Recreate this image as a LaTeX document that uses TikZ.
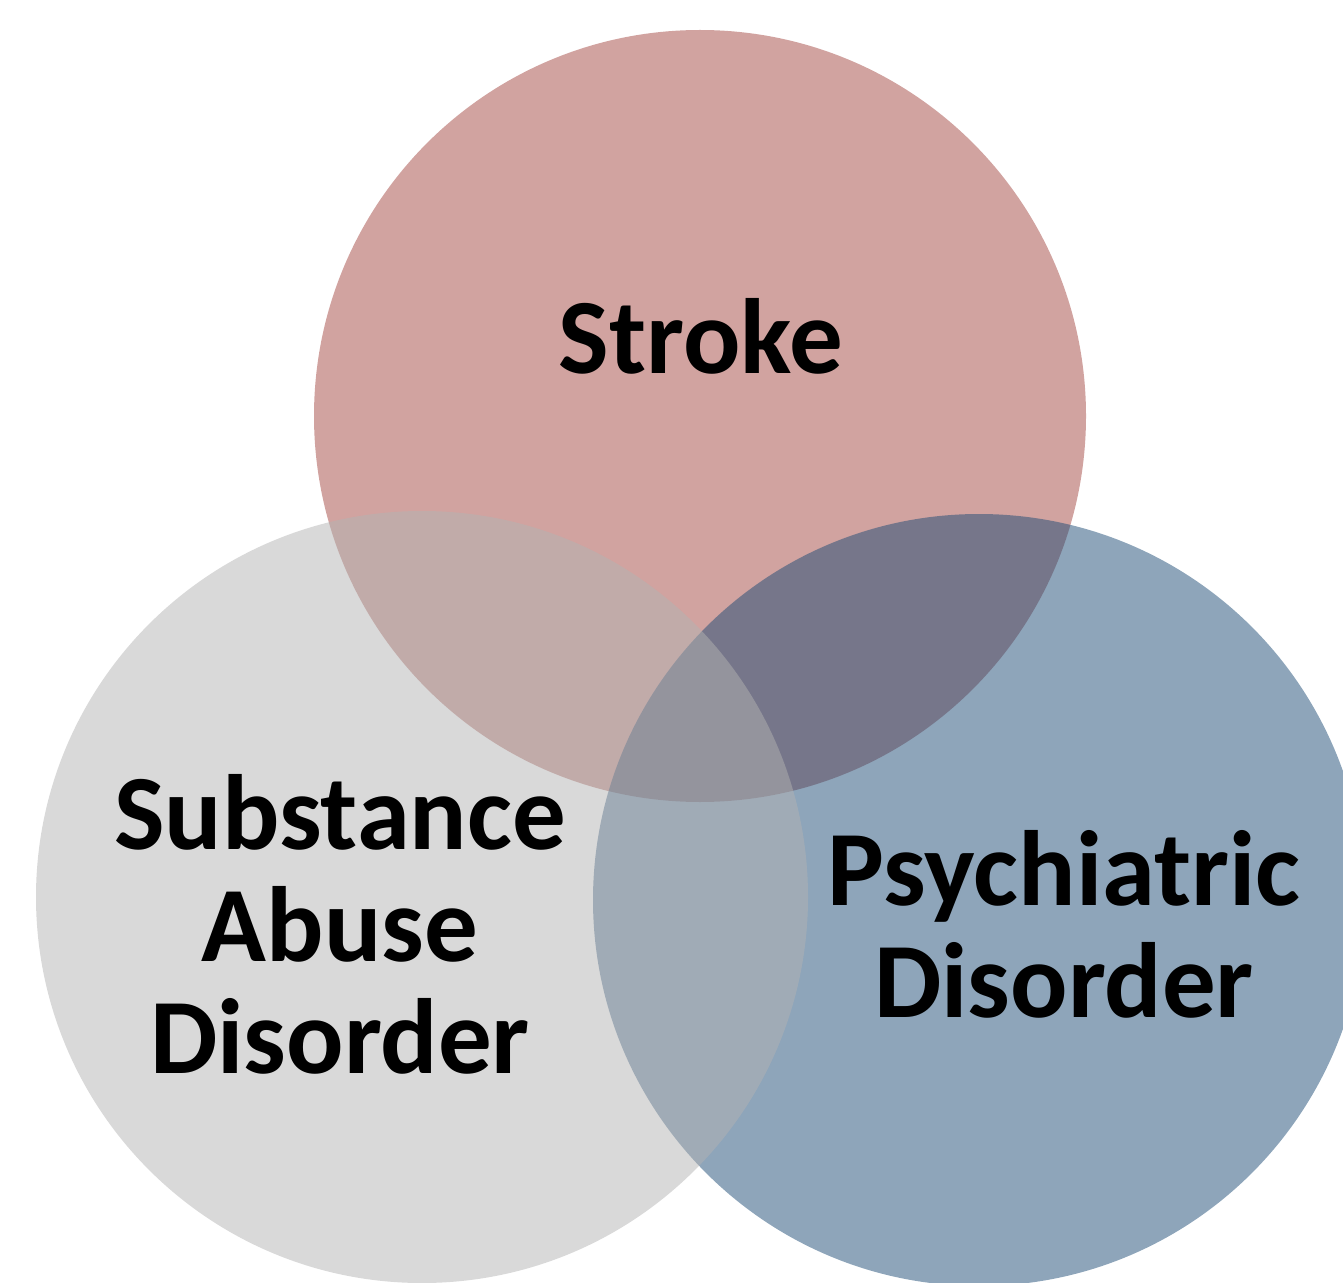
\documentclass[tikz,border=0pt]{standalone}
\usepackage{fontspec}
\setmainfont{Carlito}
\usepackage{tikz}
\definecolor{strokered}{RGB}{163,71,65}
\definecolor{abusegray}{RGB}{179,179,179}
\definecolor{psychblue}{RGB}{29,75,117}
\tikzset{disk/.style={circle, inner sep=0pt, minimum size=386pt, fill opacity=.5}}
\tikzset{lab/.style={font=\fontsize{53.5}{56}\selectfont\bfseries, align=center, inner sep=0pt}}

\begin{document}
\begin{tikzpicture}[x=0.5pt,y=-0.5pt]
  \useasboundingbox (0,0) rectangle (1343,1283);
  \foreach \x/\y/\lab/\col in {
    700/416/stroke/strokered,
    979/900/psych/psychblue,
    422/897/abuse/abusegray%
  } {
    \node[disk, fill=\col] (\lab) at (\x, \y) {};
  }
  \node[lab, anchor=base] (strokelab) at (701,373) {Stroke};
  \node[lab, anchor=base] (abuselab) at (340,1073) {Substance\\Abuse\\Disorder};
  \node[lab, anchor=base] (psychlab) at (1064,1017) {Psychiatric\\Disorder};
\end{tikzpicture}
\end{document}
